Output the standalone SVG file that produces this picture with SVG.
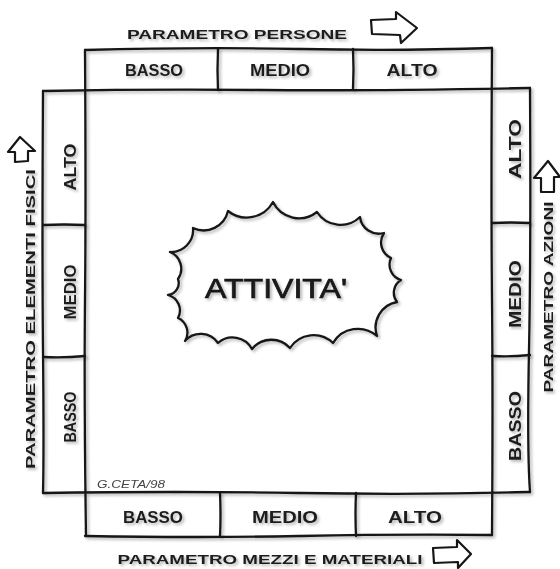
<svg xmlns="http://www.w3.org/2000/svg" width="560" height="569" viewBox="0 0 560 569">
<defs>
<filter id="sh" filterUnits="userSpaceOnUse" x="0" y="0" width="560" height="569">
<feGaussianBlur in="SourceAlpha" stdDeviation="1.6"/>
<feOffset dx="2" dy="2" result="o"/>
<feComponentTransfer><feFuncA type="linear" slope="0.3"/></feComponentTransfer>
<feMerge><feMergeNode/><feMergeNode in="SourceGraphic"/></feMerge>
</filter>
<style>
.ln{fill:none;stroke:#161616;stroke-width:2.3;stroke-linecap:round;stroke-linejoin:round}
.lab{font-family:"Liberation Sans",Arial,sans-serif;font-weight:bold;fill:#1c1c1c;text-anchor:middle}
.cell{font-size:16px}
.ttl{font-size:13px}
.arr{fill:#fff;stroke:#161616;stroke-width:2.2;stroke-linejoin:round}
</style>
</defs>
<rect width="560" height="569" fill="#fff"/>

<g id="frame" filter="url(#sh)">
<path class="ln" d="M85,50 Q200,47 300,49 T492,48"/>
<path class="ln" d="M43,91 Q150,89 260,90 T530,88"/>
<path class="ln" d="M43,493 Q180,491 300,493 T530,492"/>
<path class="ln" d="M85,536 Q200,538 300,536 T492,535"/>
<path class="ln" d="M85,50 Q86,200 85,300 T86,536"/>
<path class="ln" d="M492,48 Q491,200 492,300 T492,535"/>
<path class="ln" d="M43,91 Q42,250 43,350 T43,493"/>
<path class="ln" d="M530,88 Q531,250 529,350 T530,492"/>
</g>

<g id="top-strip" filter="url(#sh)">
<path class="ln" d="M218,49 Q217,70 218,90"/>
<path class="ln" d="M353,49 Q354,70 353,89"/>
<g id="top-basso"><text class="lab cell" x="154" y="76" textLength="58" lengthAdjust="spacingAndGlyphs">BASSO</text></g>
<g id="top-medio"><text class="lab cell" x="280" y="76" textLength="60" lengthAdjust="spacingAndGlyphs">MEDIO</text></g>
<g id="top-alto"><text class="lab cell" x="412" y="76" textLength="51" lengthAdjust="spacingAndGlyphs">ALTO</text></g>
</g>

<g id="bottom-strip" filter="url(#sh)">
<path class="ln" d="M220,493 Q221,515 220,536"/>
<path class="ln" d="M356,493 Q355,515 356,536"/>
<g id="bottom-basso"><text class="lab cell" x="153" y="523" textLength="60" lengthAdjust="spacingAndGlyphs">BASSO</text></g>
<g id="bottom-medio"><text class="lab cell" x="285" y="523" textLength="66" lengthAdjust="spacingAndGlyphs">MEDIO</text></g>
<g id="bottom-alto"><text class="lab cell" x="415" y="523" textLength="54" lengthAdjust="spacingAndGlyphs">ALTO</text></g>
</g>

<g id="left-strip" filter="url(#sh)">
<path class="ln" d="M43,225 Q64,224 85,225"/>
<path class="ln" d="M43,357 Q64,358 85,356"/>
<g id="left-alto"><text class="lab cell" transform="translate(76,167) rotate(-90)" textLength="47" lengthAdjust="spacingAndGlyphs">ALTO</text></g>
<g id="left-medio"><text class="lab cell" transform="translate(76,292) rotate(-90)" textLength="55" lengthAdjust="spacingAndGlyphs">MEDIO</text></g>
<g id="left-basso"><text class="lab cell" transform="translate(76,417) rotate(-90)" textLength="51" lengthAdjust="spacingAndGlyphs">BASSO</text></g>
</g>

<g id="right-strip" filter="url(#sh)">
<path class="ln" d="M492,223 Q511,222 530,223"/>
<path class="ln" d="M492,356 Q511,357 530,355"/>
<g id="right-alto"><text class="lab cell" transform="translate(521,149) rotate(-90)" textLength="60" lengthAdjust="spacingAndGlyphs">ALTO</text></g>
<g id="right-medio"><text class="lab cell" transform="translate(521,294) rotate(-90)" textLength="68" lengthAdjust="spacingAndGlyphs">MEDIO</text></g>
<g id="right-basso"><text class="lab cell" transform="translate(521,426) rotate(-90)" textLength="70" lengthAdjust="spacingAndGlyphs">BASSO</text></g>
</g>

<g id="titles" filter="url(#sh)">
<text class="lab ttl" x="237" y="39" textLength="220" lengthAdjust="spacingAndGlyphs">PARAMETRO PERSONE</text>
<text class="lab ttl" x="270" y="564" textLength="305" lengthAdjust="spacingAndGlyphs">PARAMETRO MEZZI E MATERIALI</text>
<text class="lab ttl" transform="translate(35,319) rotate(-90)" textLength="300" lengthAdjust="spacingAndGlyphs">PARAMETRO ELEMENTI FISICI</text>
<text class="lab ttl" transform="translate(553,297) rotate(-90)" textLength="191" lengthAdjust="spacingAndGlyphs">PARAMETRO AZIONI</text>
</g>

<g id="arrows">
<path class="arr" d="M371,20 L396,19 L396,12 L417,28 L401,43 L400,35 L372,34 Z"/>
<path class="arr" d="M433,548 L457,547 L457,540 L471,554 L458,568 L458,562 L434,563 Z"/>
<path class="arr" d="M15,162 L15,152 L8,152 L20,137 L35,151 L28,151 L28,161 Z"/>
<path class="arr" d="M541,192 L541,178 L534,178 L548,161 L560,177 L554,177 L554,192 Z"/>
</g>

<g id="attivita" filter="url(#sh)">
<path class="ln" d="M193,228 A25,25 0 0 0 228,211 A30,30 0 0 0 273,202 A29,29 0 0 0 317,212 A28,28 0 0 0 360,217 A19,19 0 0 0 384,233 A17,17 0 0 0 391,258 A16,16 0 0 0 401,280 A15,15 0 0 0 397,302 A26,26 0 0 0 377,336 A29,29 0 0 0 333,343 A28,28 0 0 0 290,348 A25,25 0 0 0 252,349 A22,22 0 0 0 218,343 A21,21 0 0 0 185,341 A16,16 0 0 0 178,318 A16,16 0 0 0 168,295 A12,12 0 0 0 178,279 A18,18 0 0 0 170,252 A22,22 0 0 0 193,228 Z"/>
<text x="276" y="298" font-family="Liberation Sans, Arial, sans-serif" font-size="27" fill="#1a1a1a" stroke="#1a1a1a" stroke-width="0.7" text-anchor="middle" textLength="142" lengthAdjust="spacingAndGlyphs">ATTIVITA'</text>
</g>

<g id="signature">
<text x="97" y="488" font-family="Liberation Sans, Arial, sans-serif" font-size="10" font-style="italic" fill="#444" textLength="68" lengthAdjust="spacingAndGlyphs">G.CETA/98</text>
</g>
</svg>
